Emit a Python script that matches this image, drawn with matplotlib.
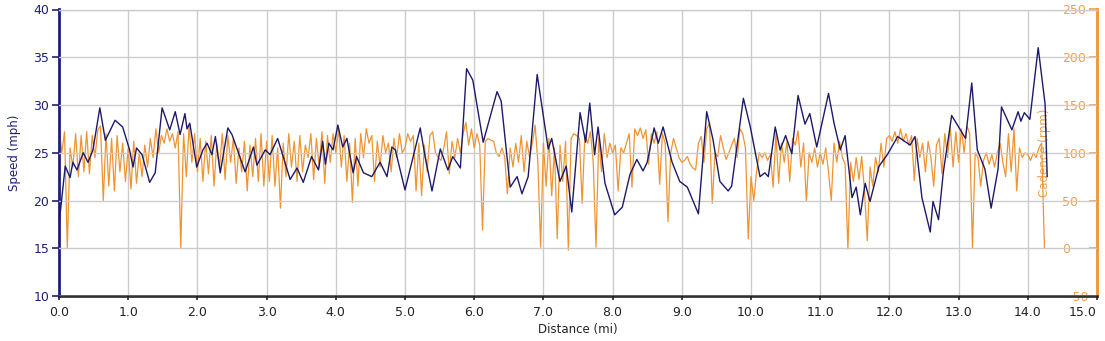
import numpy as np
import matplotlib
matplotlib.use("Agg")
import matplotlib.pyplot as plt

# ---- data ----
speed_dist = [0.0, 0.09, 0.16, 0.2, 0.26, 0.35, 0.42, 0.49, 0.59, 0.67, 0.81, 0.92, 1.02, 1.07, 1.12, 1.2,
              1.31, 1.39, 1.49, 1.6, 1.68, 1.75, 1.82, 1.85, 1.89, 1.99, 2.08, 2.14, 2.21, 2.26, 2.33, 2.44,
              2.5, 2.69, 2.81, 2.86, 2.98, 3.05, 3.16, 3.34, 3.44, 3.53, 3.65, 3.75, 3.81, 3.85, 3.9, 3.96,
              4.03, 4.1, 4.16, 4.25, 4.3, 4.4, 4.52, 4.64, 4.74, 4.81, 4.86, 5.0, 5.22, 5.29, 5.39, 5.51,
              5.62, 5.69, 5.8, 5.89, 5.98, 6.13, 6.33, 6.39, 6.52, 6.62, 6.69, 6.78, 6.91, 7.07, 7.12, 7.24,
              7.33, 7.41, 7.53, 7.61, 7.67, 7.74, 7.79, 7.89, 8.03, 8.14, 8.25, 8.35, 8.44, 8.5, 8.6, 8.66,
              8.73, 8.86, 8.97, 9.08, 9.24, 9.36, 9.45, 9.55, 9.67, 9.72, 9.89, 9.99, 10.13, 10.2, 10.25, 10.35,
              10.42, 10.5, 10.59, 10.68, 10.78, 10.85, 10.95, 11.12, 11.2, 11.29, 11.36, 11.46, 11.52, 11.58, 11.65, 11.72,
              11.85, 11.97, 12.12, 12.3, 12.37, 12.47, 12.59, 12.63, 12.71, 12.78, 12.9, 13.0, 13.1, 13.19, 13.27, 13.38,
              13.47, 13.57, 13.62, 13.77, 13.86, 13.9, 13.95, 14.03, 14.15, 14.25, 14.28]
speed_mph = [17.5, 23.6, 22.4, 24.0, 23.2, 25.0, 24.0, 25.3, 29.7, 26.3, 28.4, 27.7, 25.3, 23.5, 25.5, 24.8,
             21.9, 22.9, 29.7, 27.4, 29.3, 26.9, 29.1, 27.5, 28.1, 23.5, 25.3, 26.0, 24.8, 26.7, 22.9, 27.6,
             26.9, 23.0, 25.6, 23.7, 25.3, 24.8, 26.5, 22.2, 23.4, 21.9, 24.6, 23.2, 26.2, 23.8, 26.0, 25.3,
             27.9, 25.6, 26.5, 22.9, 24.6, 22.9, 22.5, 24.0, 22.5, 25.6, 25.3, 21.1, 27.6, 24.6, 21.0, 25.4,
             23.2, 24.6, 23.4, 33.8, 32.6, 26.1, 31.4, 30.4, 21.4, 22.5, 20.7, 22.5, 33.2, 25.4, 26.5, 22.0,
             23.6, 18.8, 29.2, 26.1, 30.2, 24.8, 27.7, 21.8, 18.5, 19.3, 22.7, 24.3, 23.1, 24.0, 27.6, 26.0,
             27.7, 24.0, 22.0, 21.4, 18.6, 29.3, 26.4, 22.0, 21.0, 21.5, 30.7, 27.7, 22.5, 22.9, 22.5, 27.7,
             25.3, 26.8, 24.9, 31.0, 28.0, 29.1, 25.6, 31.2, 28.1, 25.3, 26.8, 20.3, 21.4, 18.5, 21.8, 19.9,
             23.6, 24.8, 26.7, 25.8, 26.7, 20.3, 16.7, 19.9, 18.0, 23.0, 28.9, 27.7, 26.5, 32.3, 25.3, 23.3,
             19.2, 23.3, 29.8, 27.4, 29.3, 28.3, 29.2, 28.5, 36.0, 30.1, 22.5]

# cadence sampled every 0.04 mi, one list per mile
cad_step = 0.04
cad_m0 = [128, 100, 122, 0, 105, 85, 120, 75, 118, 80, 122, 78, 118, 95, 124, 128, 50, 120, 65, 115, 60, 118, 80, 110, 70]
cad_m1 = [105, 62, 112, 68, 100, 75, 108, 85, 115, 95, 125, 100, 118, 110, 125, 112, 120, 105, 122, 0, 120, 75, 128, 90, 120]
cad_m2 = [80, 115, 70, 112, 78, 118, 65, 110, 85, 120, 72, 118, 90, 115, 68, 105, 80, 112, 60, 108, 75, 115, 70, 120, 65]
cad_m3 = [112, 70, 118, 65, 105, 42, 110, 75, 120, 85, 112, 70, 118, 80, 108, 95, 120, 72, 115, 85, 122, 68, 118, 90, 120]
cad_m4 = [100, 125, 85, 118, 70, 110, 48, 115, 65, 120, 95, 125, 110, 118, 70, 112, 85, 118, 100, 110, 80, 115, 95, 120, 100]
cad_m5 = [105, 120, 112, 118, 60, 110, 55, 108, 80, 118, 122, 100, 95, 92, 105, 122, 78, 112, 95, 115, 100, 120, 132, 108, 125]
cad_m6 = [105, 120, 108, 19, 112, 115, 113, 112, 100, 96, 105, 96, 57, 105, 85, 110, 90, 118, 80, 112, 95, 110, 129, 90, 1]
cad_m7 = [110, 65, 115, 55, 105, 10, 108, 70, 112, -2, 115, 120, 118, 115, 47, 120, 110, 122, 90, 1, 115, 80, 120, 95, 110]
cad_m8 = [100, 108, 60, 105, 100, 110, 120, 64, 125, 118, 126, 115, 124, 88, 120, 110, 122, 67, 120, 110, 28, 100, 115, 105, 95]
cad_m9 = [90, 92, 96, 88, 84, 82, 110, 117, 90, 125, 131, 47, 100, 96, 118, 105, 93, 100, 108, 115, 95, 125, 120, 105, 10]
cad_m10 = [75, 50, 80, 100, 95, 100, 92, 98, 64, 120, 68, 110, 90, 112, 70, 115, 108, 123, 85, 110, 49, 100, 90, 105, 85]
cad_m11 = [100, 88, 105, 80, 50, 110, 90, 112, 95, 88, -1, 90, 70, 95, 72, 96, 60, 8, 85, 65, 95, 80, 110, 85, 115]
cad_m12 = [118, 112, 122, 110, 125, 112, 120, 108, 118, 71, 115, 95, 110, 80, 112, 95, 65, 108, 115, 78, 120, 95, 127, 85, 122]
cad_m13 = [90, 125, 100, 128, 120, 0, 100, 95, 65, 92, 100, 88, 98, 85, 100, 110, 90, 75, 120, 80, 125, 60, 105, 95, 100]
cad_m14 = [98, 92, 100, 95, 105, 110, 0]

cadence_rpm = (cad_m0 + cad_m1 + cad_m2 + cad_m3 + cad_m4 + cad_m5 + cad_m6 + cad_m7 +
               cad_m8 + cad_m9 + cad_m10 + cad_m11 + cad_m12 + cad_m13 + cad_m14)
cadence_dist = np.arange(len(cadence_rpm)) * cad_step

x_ticks = np.arange(0, 15.01, 1.0)
speed_ticks = [10, 15, 20, 25, 30, 35, 40]
cad_ticks = [-50, 0, 50, 100, 150, 200, 250]

# ---- styles ----
navy = "#1c1a6b"
navy_axis = "#1f1f7a"
orange = "#EF9430"
orange_txt = "#F0A050"

fig = plt.figure(figsize=(11.05, 3.41), dpi=100)
ax = fig.add_axes([59 / 1105, 45 / 341, 1038 / 1105, 286.5 / 341])
ax2 = ax.twinx()

ax.set_zorder(2)
ax.patch.set_visible(False)
ax2.set_zorder(1)

# grid (drawn on the back axis)
for xv in x_ticks:
    ax2.axvline(xv, color="#cccccc", lw=1.0, zorder=0)
for sv in speed_ticks:
    ax.axhline(sv, color="#cccccc", lw=1.0, zorder=0)

ax2.plot(cadence_dist, cadence_rpm, color=orange, lw=0.9, zorder=2)
ax.plot(speed_dist, speed_mph, color=navy, lw=1.0, zorder=3)

ax.set_xlim(0, 15)
ax.set_ylim(10, 40)
ax2.set_ylim(-50, 250)

ax.set_xticks(x_ticks)
ax.set_xticklabels([f"{v:.1f}" for v in x_ticks])
ax.set_yticks(speed_ticks)
ax2.set_yticks(cad_ticks)

ax.tick_params(axis="x", direction="out", length=3, width=1.2, colors="#222222", labelsize=9, pad=4)
ax.tick_params(axis="y", direction="out", length=5, width=1.2, colors=navy_axis, labelsize=9, pad=2)
ax2.tick_params(axis="y", direction="in", length=6, width=1.2, colors=orange_txt, labelsize=9, pad=-25)
for lbl in ax2.get_yticklabels():
    lbl.set_horizontalalignment("left")
xlabels = ax.get_xticklabels()
xlabels[-1].set_horizontalalignment("right")

for s in ["top", "right", "left", "bottom"]:
    ax.spines[s].set_visible(False)
ax2.spines["top"].set_color("#cccccc")
ax2.spines["top"].set_linewidth(1.0)
ax2.spines["left"].set_color(navy_axis)
ax2.spines["left"].set_linewidth(2.0)
ax2.spines["right"].set_color(orange)
ax2.spines["right"].set_linewidth(2.0)
ax2.spines["bottom"].set_color("#333333")
ax2.spines["bottom"].set_linewidth(2.0)

ax.set_xlabel("Distance (mi)", fontsize=8.5, color="#222222", labelpad=3)
ax.set_ylabel("Speed (mph)", fontsize=8.5, color=navy_axis, labelpad=9)
ax2.set_ylabel("Cadence (rpm)", fontsize=8.5, color=orange_txt, rotation=90)
ax2.yaxis.set_label_coords(0.943, 0.5)

fig.savefig("out.png", dpi=100)
